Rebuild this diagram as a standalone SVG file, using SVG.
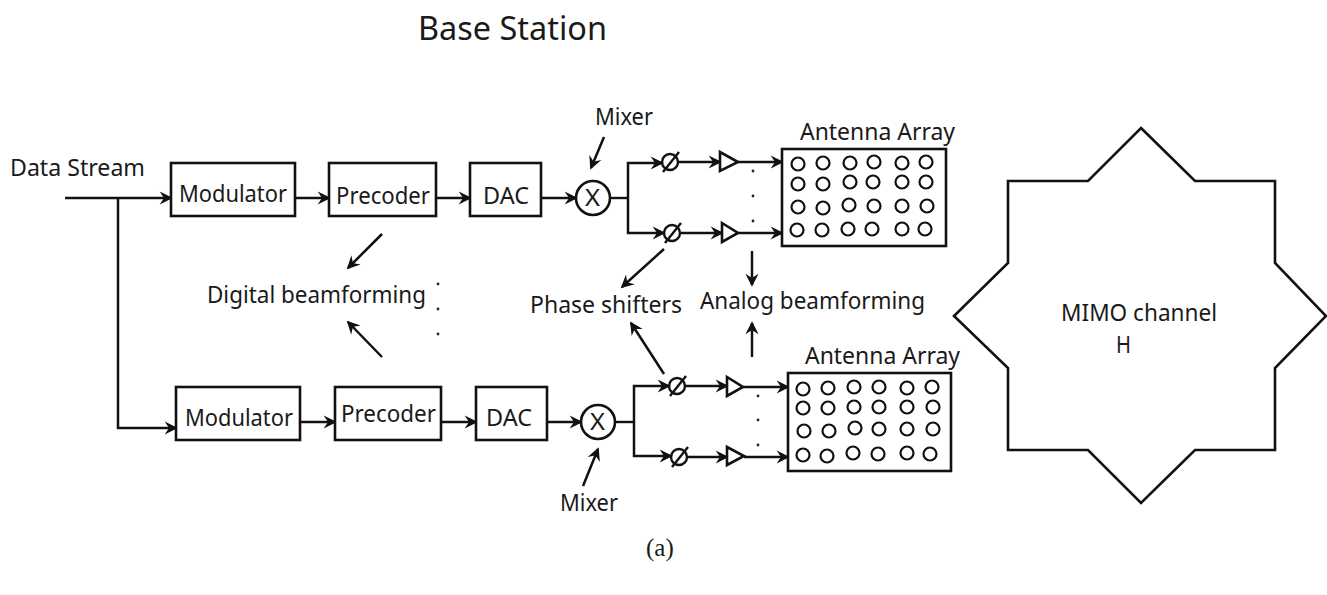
<svg xmlns="http://www.w3.org/2000/svg" width="1327" height="595" viewBox="0 0 1327 595">
<style>
text{font-family:"Noto Sans","DejaVu Sans",sans-serif;font-size:23px;fill:#1a1a1a}
.b{fill:#fff;stroke:#111;stroke-width:2.6}
.c{fill:none;stroke:#111;stroke-width:2.4}
.e{fill:none;stroke:#111;stroke-width:2.2}
.w{fill:none;stroke:#111;stroke-width:2.5;marker-end:url(#a)}
.d{fill:#222}
</style>
<defs>
<marker id="a" markerUnits="userSpaceOnUse" markerWidth="16" markerHeight="14" refX="12" refY="7" orient="auto" overflow="visible"><path d="M12 7L3 2.5L6 7L3 11.5Z" fill="#111" stroke="#111" stroke-width="1.6" stroke-linejoin="miter"/></marker>
</defs>
<rect width="1327" height="595" fill="#fff"/>
<text id="title" x="418" y="40" textLength="189" lengthAdjust="spacingAndGlyphs" style="font-size:33px">Base Station</text>
<text id="data-stream" x="10" y="176" textLength="135" lengthAdjust="spacingAndGlyphs">Data Stream</text>
<g id="connectors">
<path class="w" d="M65 198H171"/><path class="w" d="M118 198V428H176"/>
<path class="w" d="M295 198H329"/><path class="w" d="M436 198H470"/><path class="w" d="M541 198H576"/>
<path class="w" d="M300 422H335"/><path class="w" d="M441 422H476"/><path class="w" d="M547 422H581"/>
<path class="c" d="M610 198H628"/><path class="w" d="M628 198V163H662"/><path class="w" d="M628 198V233H664"/>
<path class="w" d="M679 162H720"/><path class="w" d="M681 233H722"/><path class="w" d="M738 162H782"/><path class="w" d="M738 233H782"/>
<path class="c" d="M615 422H634"/><path class="w" d="M634 422V386H669"/><path class="w" d="M634 422V456H671"/>
<path class="w" d="M686 386H727"/><path class="w" d="M688 457H727"/><path class="w" d="M743 387H788"/><path class="w" d="M744 457H788"/>
<path class="w" d="M382 234L348 268"/><path class="w" d="M382 357L348 322"/>
<path class="w" d="M604 137L591 168"/><path class="w" d="M583 486L598 449"/>
<path class="w" d="M664 249L622 287"/><path class="w" d="M664 374L631 323"/>
<path class="w" d="M752 251V285"/><path class="w" d="M752 357V323"/>
</g>
<g id="modulator-1"><rect class="b" x="171" y="163" width="124" height="53"/><text x="179" y="202" textLength="108" lengthAdjust="spacingAndGlyphs">Modulator</text></g>
<g id="precoder-1"><rect class="b" x="329" y="163" width="107" height="53"/><text x="336" y="204" textLength="94" lengthAdjust="spacingAndGlyphs">Precoder</text></g>
<g id="dac-1"><rect class="b" x="470" y="163" width="71" height="53"/><text x="483" y="204" textLength="46" lengthAdjust="spacingAndGlyphs">DAC</text></g>
<g id="modulator-2"><rect class="b" x="176" y="387" width="124" height="53"/><text x="185" y="426" textLength="108" lengthAdjust="spacingAndGlyphs">Modulator</text></g>
<g id="precoder-2"><rect class="b" x="335" y="387" width="106" height="53"/><text x="341" y="422" textLength="95" lengthAdjust="spacingAndGlyphs">Precoder</text></g>
<g id="dac-2"><rect class="b" x="476" y="387" width="71" height="53"/><text x="486" y="426" textLength="46" lengthAdjust="spacingAndGlyphs">DAC</text></g>
<g id="mixer-1"><circle class="b" cx="593" cy="198" r="17"/><text x="585" y="206" textLength="15" lengthAdjust="spacingAndGlyphs">X</text></g>
<g id="mixer-2"><circle class="b" cx="598" cy="422" r="17"/><text x="590" y="430" textLength="15" lengthAdjust="spacingAndGlyphs">X</text></g>
<g id="phase-1"><circle class="c" cx="670" cy="162" r="8"/><path class="c" d="M663 172L679 152"/></g>
<g id="phase-2"><circle class="c" cx="672" cy="233" r="8"/><path class="c" d="M665 243L681 223"/></g>
<g id="phase-3"><circle class="c" cx="677" cy="386" r="8"/><path class="c" d="M670 396L686 376"/></g>
<g id="phase-4"><circle class="c" cx="679" cy="457" r="8"/><path class="c" d="M672 467L688 447"/></g>
<g id="amp-1"><path class="b" d="M720 152V171L738 162Z"/></g>
<g id="amp-2"><path class="b" d="M722 223V242L738 233Z"/></g>
<g id="amp-3"><path class="b" d="M727 377V396L743 387Z"/></g>
<g id="amp-4"><path class="b" d="M727 447V465L744 456Z"/></g>
<g id="antenna-array-1">
<rect class="b" x="782" y="149" width="164" height="97"/>
<g class="e">
<circle cx="798" cy="164" r="6.5"/><circle cx="823" cy="163" r="6.5"/><circle cx="850" cy="163" r="6.5"/><circle cx="874" cy="162" r="6.5"/><circle cx="902" cy="163" r="6.5"/><circle cx="926" cy="162" r="6.5"/>
<circle cx="798" cy="184" r="6.5"/><circle cx="823" cy="184" r="6.5"/><circle cx="850" cy="182" r="6.5"/><circle cx="873" cy="182" r="6.5"/><circle cx="902" cy="182" r="6.5"/><circle cx="926" cy="182" r="6.5"/>
<circle cx="798" cy="207" r="6.5"/><circle cx="823" cy="208" r="6.5"/><circle cx="849" cy="205" r="6.5"/><circle cx="874" cy="206" r="6.5"/><circle cx="902" cy="206" r="6.5"/><circle cx="927" cy="206" r="6.5"/>
<circle cx="797" cy="230" r="6.5"/><circle cx="822" cy="230" r="6.5"/><circle cx="848" cy="229" r="6.5"/><circle cx="872" cy="229" r="6.5"/><circle cx="902" cy="229" r="6.5"/><circle cx="925" cy="229" r="6.5"/>
</g>
<text x="800" y="140" textLength="155" lengthAdjust="spacingAndGlyphs">Antenna Array</text>
</g>
<g id="antenna-array-2">
<rect class="b" x="788" y="373" width="163" height="98"/>
<g class="e">
<circle cx="803" cy="389" r="6.5"/><circle cx="828" cy="388" r="6.5"/><circle cx="854" cy="387" r="6.5"/><circle cx="879" cy="387" r="6.5"/><circle cx="907" cy="388" r="6.5"/><circle cx="932" cy="387" r="6.5"/>
<circle cx="803" cy="408" r="6.5"/><circle cx="828" cy="408" r="6.5"/><circle cx="854" cy="407" r="6.5"/><circle cx="879" cy="407" r="6.5"/><circle cx="907" cy="407" r="6.5"/><circle cx="933" cy="407" r="6.5"/>
<circle cx="804" cy="431" r="6.5"/><circle cx="829" cy="431" r="6.5"/><circle cx="855" cy="428" r="6.5"/><circle cx="879" cy="429" r="6.5"/><circle cx="907" cy="429" r="6.5"/><circle cx="933" cy="429" r="6.5"/>
<circle cx="803" cy="455" r="6.5"/><circle cx="827" cy="456" r="6.5"/><circle cx="853" cy="453" r="6.5"/><circle cx="878" cy="454" r="6.5"/><circle cx="907" cy="453" r="6.5"/><circle cx="930" cy="454" r="6.5"/>
</g>
<text x="805" y="364" textLength="155" lengthAdjust="spacingAndGlyphs">Antenna Array</text>
</g>
<g id="mimo-channel">
<path class="b" d="M1141 128L1195 181H1275V263L1326 316L1275 368V450H1195L1141 503L1088 450H1008V368L954 316L1008 263V181H1088Z"/>
<text x="1061" y="321" textLength="156" lengthAdjust="spacingAndGlyphs">MIMO channel</text>
<text x="1116" y="353" textLength="15" lengthAdjust="spacingAndGlyphs">H</text>
</g>
<g id="labels">
<text x="595" y="125" textLength="58" lengthAdjust="spacingAndGlyphs">Mixer</text>
<text x="560" y="511" textLength="58" lengthAdjust="spacingAndGlyphs">Mixer</text>
<text x="207" y="303" textLength="219" lengthAdjust="spacingAndGlyphs">Digital beamforming</text>
<text x="530" y="313" textLength="152" lengthAdjust="spacingAndGlyphs">Phase shifters</text>
<text x="700" y="309" textLength="225" lengthAdjust="spacingAndGlyphs">Analog beamforming</text>
<text x="646" y="556" style="font-family:'Liberation Serif',serif;font-size:25px">(a)</text>
</g>
<g id="dots">
<circle class="d" cx="438" cy="284" r="1.4"/><circle class="d" cx="438" cy="309" r="1.4"/><circle class="d" cx="438" cy="334" r="1.4"/>
<circle class="d" cx="753" cy="171" r="1.4"/><circle class="d" cx="753" cy="196" r="1.4"/><circle class="d" cx="753" cy="221" r="1.4"/>
<circle class="d" cx="758" cy="396" r="1.4"/><circle class="d" cx="758" cy="420" r="1.4"/><circle class="d" cx="758" cy="445" r="1.4"/>
</g>
</svg>
